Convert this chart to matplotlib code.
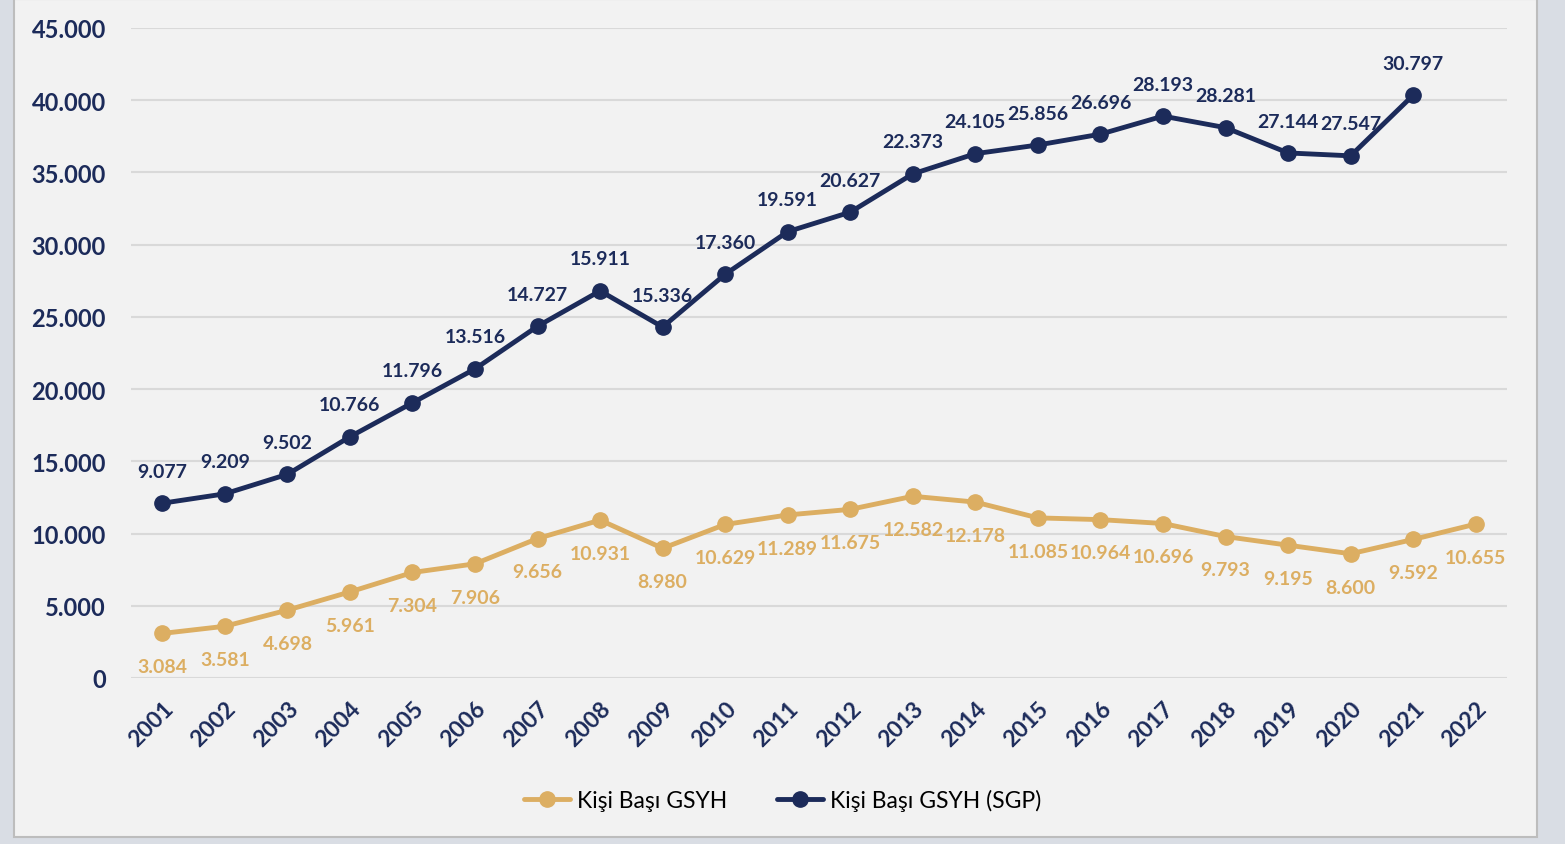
import numpy as np
import matplotlib.pyplot as plt
from matplotlib.patches import Rectangle

years = [str(y) for y in range(2001, 2023)]

# Kişi Başı GSYH (values and labels)
gsyh = [3084, 3581, 4698, 5961, 7304, 7906, 9656, 10931, 8980, 10629, 11289,
        11675, 12582, 12178, 11085, 10964, 10696, 9793, 9195, 8600, 9592, 10655]

# Kişi Başı GSYH (SGP): plotted positions (2001-2021)
sgp = [12100, 12750, 14100, 16700, 19050, 21400, 24350, 26800, 24300, 27950,
       30900, 32250, 34900, 36300, 36900, 37650, 38900, 38100, 36350, 36150, 40350]
# labels written on the SGP points
sgp_labels = ["9.077", "9.209", "9.502", "10.766", "11.796", "13.516", "14.727",
              "15.911", "15.336", "17.360", "19.591", "20.627", "22.373", "24.105",
              "25.856", "26.696", "28.193", "28.281", "27.144", "27.547", "30.797"]

y_ticks = [0, 5000, 10000, 15000, 20000, 25000, 30000, 35000, 40000, 45000]

gold = "#dcae62"
navy = "#1c2b5a"
font = ["Lato", "DejaVu Sans"]

def fmt(v):
    return f"{v:,}".replace(",", ".")

fig = plt.figure(figsize=(15.65, 8.45), dpi=100)
fig.patch.set_facecolor("#d9dde4")
fig.patches.append(Rectangle((14 / 1565, 1 - 838 / 845), 1523 / 1565, 838 / 845,
                             transform=fig.transFigure, facecolor="#f2f2f2",
                             edgecolor="#bdbdbd", linewidth=1.5, zorder=-5))

ax = fig.add_axes([131 / 1565, 1 - 679 / 845, 1376 / 1565, 650 / 845])
ax.set_zorder(2)
ax.set_facecolor("none")
x = np.arange(len(years))

ax.plot(x, gsyh, color=gold, lw=3.5, marker="o", ms=11, label="Kişi Başı GSYH",
        solid_capstyle="round", zorder=3)
ax.plot(x[:len(sgp)], sgp, color=navy, lw=3.5, marker="o", ms=11,
        label="Kişi Başı GSYH (SGP)", solid_capstyle="round", zorder=3)

for xi, v in zip(x, gsyh):
    ax.annotate(fmt(v), (xi, v), xytext=(0, -24), textcoords="offset points",
                ha="center", va="center", color=gold, fontsize=14,
                fontweight="bold", family=font)
for xi, v, lab in zip(x, sgp, sgp_labels):
    ax.annotate(lab, (xi, v), xytext=(0, 23), textcoords="offset points",
                ha="center", va="center", color=navy, fontsize=14,
                fontweight="bold", family=font)

ax.set_xlim(-0.5, len(years) - 0.5)
ax.set_ylim(0, 45000)
ax.set_yticks(y_ticks)
ax.set_yticklabels([fmt(v) for v in y_ticks], color=navy, fontsize=17,
                   fontweight="bold", family=font)
ax.set_xticks(x)
ax.set_xticklabels(years, rotation=45, ha="right", rotation_mode="anchor",
                   color=navy, fontsize=16.5, fontweight="bold", family=font)
ax.tick_params(axis="both", length=0)
ax.tick_params(axis="y", pad=18)
ax.tick_params(axis="x", pad=14)
ax.grid(axis="y", color="#d9d9d9", lw=1.5)
ax.set_axisbelow(True)
for s in ax.spines.values():
    s.set_visible(False)

fig.legend(loc="center", bbox_to_anchor=(0.5, 1 - 801 / 845), ncol=2,
           frameon=False, handlelength=2, handletextpad=0.3, columnspacing=2.2,
           prop={"family": font, "size": 16.5})

fig.savefig("out.png", dpi=100, facecolor=fig.get_facecolor())
